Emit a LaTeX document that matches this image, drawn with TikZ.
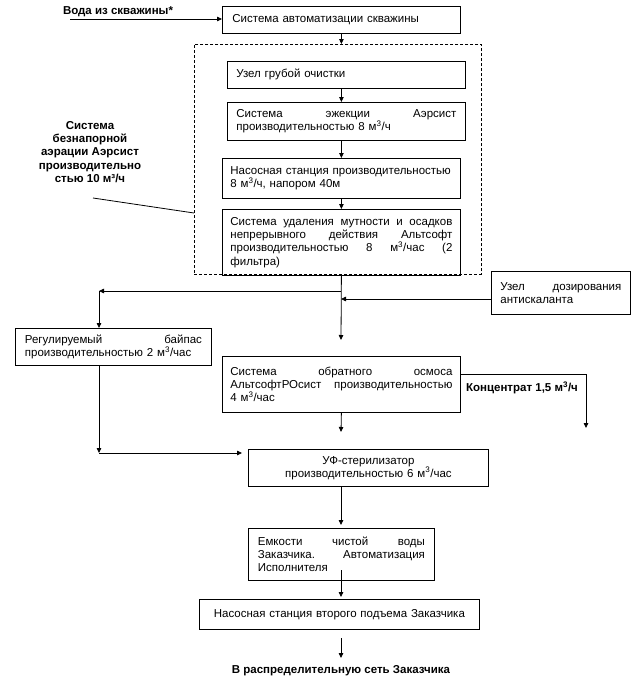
\documentclass[tikz,border=0pt]{standalone}
\usepackage{fontspec}
\setmainfont{Liberation Sans}
\usetikzlibrary{arrows.meta}
\newcommand{\mc}{м\textsuperscript{3}}
\tikzset{
  every node/.style={font=\fontsize{11.5pt}{13.3pt}\selectfont},
  box/.style={draw, line width=0.8pt, anchor=north west, inner xsep=9pt, inner ysep=2pt, align=left},
  cbox/.style={box, align=center},
  grpbox/.style={draw, line width=0.8pt, dash pattern=on 3pt off 2pt, anchor=north west, inner sep=0pt},
  lbl/.style={font=\fontsize{11.5pt}{13.3pt}\selectfont\bfseries, inner sep=1pt, align=center},
  arr/.style={line width=0.8pt, -{Triangle[length=5pt,width=4.5pt]}},
  ln/.style={line width=0.8pt}
}
\begin{document}
\begin{tikzpicture}[x=1pt,y=-1pt]
\useasboundingbox (0,0) rectangle (644,688);

% group (dashed)
\node[grpbox, minimum width=287pt, minimum height=230pt] (grp) at (194,44) {};

% boxes
\node[box, minimum width=238pt, minimum height=27pt, text width=218pt, inner xsep=10pt] (auto) at (222,6) {Система автоматизации скважины};
\node[box, minimum width=238pt, minimum height=27pt, text width=220pt] (coarse) at (227,61) {Узел грубой очистки};
\node[box, minimum width=238pt, minimum height=38pt, text width=220pt] (eject) at (227,102) {Система\hfill эжекции\hfill Аэрсист\\производительностью 8 \mc/ч};
\node[box, minimum width=238pt, minimum height=40pt, text width=222pt, inner xsep=8pt] (pump) at (222,158) {Насосная станция производительностью\\8 \mc/ч, напором 40м};
\node[box, minimum width=238pt, minimum height=66pt, text width=222pt, inner xsep=8pt] (filt) at (222,209) {Система\hfill удаления\hfill мутности\hfill и\hfill осадков\\непрерывного\hfill действия\hfill Альтсофт\\производительностью\hfill 8\hfill \mc/час\hfill (2\\фильтра)};
\node[box, minimum width=139pt, minimum height=43pt, text width=121pt] (dos) at (491,271) {Узел\hfill дозирования\\антискаланта};
\node[box, minimum width=196pt, minimum height=37pt, text width=177pt, inner xsep=9.5pt] (byp) at (15,328) {Регулируемый\hfill байпас\\производительностью 2 \mc/час};
\node[box, minimum width=238pt, minimum height=56pt, text width=222pt, inner xsep=8pt] (ro) at (222,356) {Система\hfill обратного\hfill осмоса\\АльтсофтРОсист\hfill производительностью\\4 \mc/час};
\node[cbox, minimum width=240pt, minimum height=37pt, text width=222pt] (uv) at (248,449) {УФ-стерилизатор\\производительностью 6 \mc/час};
\node[box, minimum width=186pt, minimum height=52pt, text width=167pt, inner xsep=9.5pt] (tank) at (248,528) {Емкости\hfill чистой\hfill воды\\Заказчика.\hfill Автоматизация\\Исполнителя};
\node[cbox, minimum width=280pt, minimum height=30pt, text width=262pt] (pump2) at (199,599) {Насосная станция второго подъема Заказчика};

% labels
\node[lbl] (src) at (118,12) {Вода из скважины*};
\node[lbl] (aer) at (90,152) {Система\\безнапорной\\аэрации Аэрсист\\производительно\\стью 10 м³/ч};
\node[lbl] (conc) at (522,388) {Концентрат 1,5 \mc/ч};
\node[lbl] (out) at (341,671) {В распределительную сеть Заказчика};

% coordinates
\coordinate (w0) at (70,19);
\coordinate (al) at (93,198);
\coordinate (ag) at (194,213);
\coordinate (roin) at (341,340);
\coordinate (sp) at (341,291);
\coordinate (bpin) at (99,291);
\coordinate (dj) at (341,299);
\coordinate (bpout) at (99,453);
\coordinate (uvin) at (242,453);
\coordinate (uvtop) at (341,432);
\coordinate (ccr) at (586,374);
\coordinate (cc) at (586,428);
\coordinate (tkin) at (341,525);
\coordinate (tk) at (341,570);
\coordinate (p2in) at (341,597);
\coordinate (p2out) at (341,638);
\coordinate (outin) at (341,658);

% connectors
\draw[arr] (w0) -- (w0 -| auto.west);
\draw[arr] (auto.south) -- (auto.south |- grp.north);
\draw[arr] (coarse.south -| auto.south) -- (eject.north -| auto.south);
\draw[arr] (eject.south -| auto.south) -- (pump.north -| auto.south);
\draw[arr] (pump.south) -- (filt.north);
\draw[arr] (filt.south) -- (roin);
\draw[arr] (sp) -- (bpin);
\draw[arr] (bpin) -- (bpin |- byp.north);
\draw[arr] (dj -| dos.west) -- (dj);
\draw[arr] (byp.south -| bpout) -- (bpout);
\draw[arr] (bpout) -- (uvin);
\draw[arr] (ro.south) -- (uvtop);
\draw[arr] (ccr -| ro.east) -- (ccr) -- (cc);
\draw[arr] (uv.south -| tkin) -- (tkin);
\draw[arr] (tk) -- (p2in);
\draw[arr] (p2out) -- (outin);
\draw[ln] (al) -- (ag);
\end{tikzpicture}
\end{document}
